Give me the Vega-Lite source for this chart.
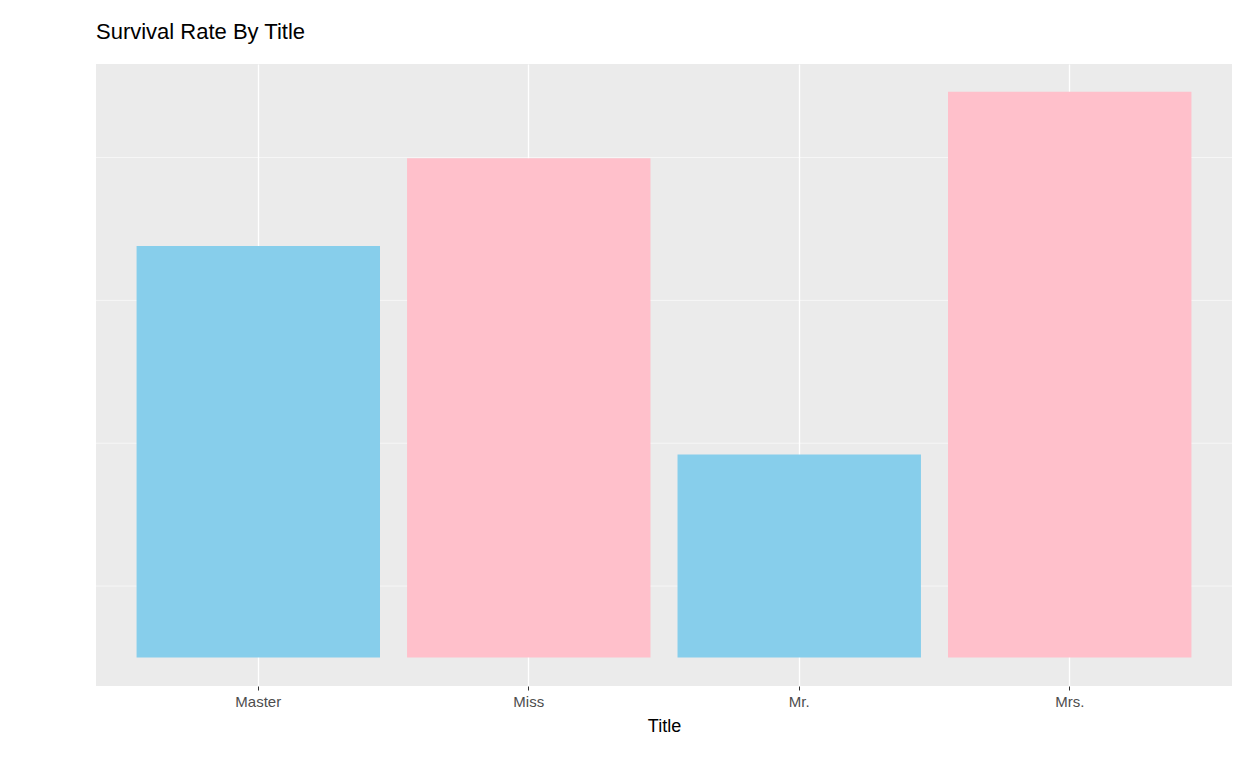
{
  "$schema": "https://vega.github.io/schema/vega-lite/v6.json",
  "width": 1136,
  "height": 622,
  "autosize": {"type": "none"},
  "padding": {"left": 96, "top": 64, "right": 16, "bottom": 82},
  "background": "white",
  "title": {"text": "Survival Rate By Title", "anchor": "start", "frame": "group", "font": "Liberation Sans", "fontSize": 22, "fontWeight": "normal", "color": "black", "offset": 20},
  "config": {
    "view": {"fill": "#EBEBEB", "stroke": null},
    "axis": {"labelFont": "Liberation Sans", "titleFont": "Liberation Sans", "labelFontSize": 15, "labelColor": "#4D4D4D", "titleFontSize": 18, "titleFontWeight": "normal", "titleColor": "black", "domain": false, "tickColor": "#333333", "tickSize": 4, "gridColor": "white", "gridWidth": 1.3}
  },
  "layer": [
    {
      "data": {"values": [{"v": 0.1}, {"v": 0.3}, {"v": 0.5}, {"v": 0.7}]},
      "mark": {"type": "rule", "color": "white", "strokeWidth": 0.6},
      "encoding": {"y": {"field": "v", "type": "quantitative", "scale": {"domain": [-0.04, 0.831], "nice": false}, "axis": null}}
    },
    {
      "data": {"values": [
        {"title": "Master", "rate": 0.576, "sex": "male"},
        {"title": "Miss", "rate": 0.699, "sex": "female"},
        {"title": "Mr.", "rate": 0.284, "sex": "male"},
        {"title": "Mrs.", "rate": 0.792, "sex": "female"}
      ]},
      "mark": {"type": "bar"},
      "encoding": {
        "x": {"field": "title", "type": "nominal", "title": "Title", "scale": {"paddingInner": 0.1, "paddingOuter": 0.15}, "axis": {"labelAngle": 0, "grid": true, "bandPosition": 0.5, "labelPadding": 4, "titlePadding": 8}},
        "y": {"field": "rate", "type": "quantitative", "title": "Survival Rate", "scale": {"domain": [-0.04, 0.831], "nice": false, "zero": false}, "axis": {"values": [0, 0.2, 0.4, 0.6, 0.8], "format": ".1f", "titlePadding": 12}},
        "color": {"field": "sex", "type": "nominal", "scale": {"domain": ["male", "female"], "range": ["#87CEEB", "#FFC0CB"]}, "legend": null}
      }
    }
  ]
}
